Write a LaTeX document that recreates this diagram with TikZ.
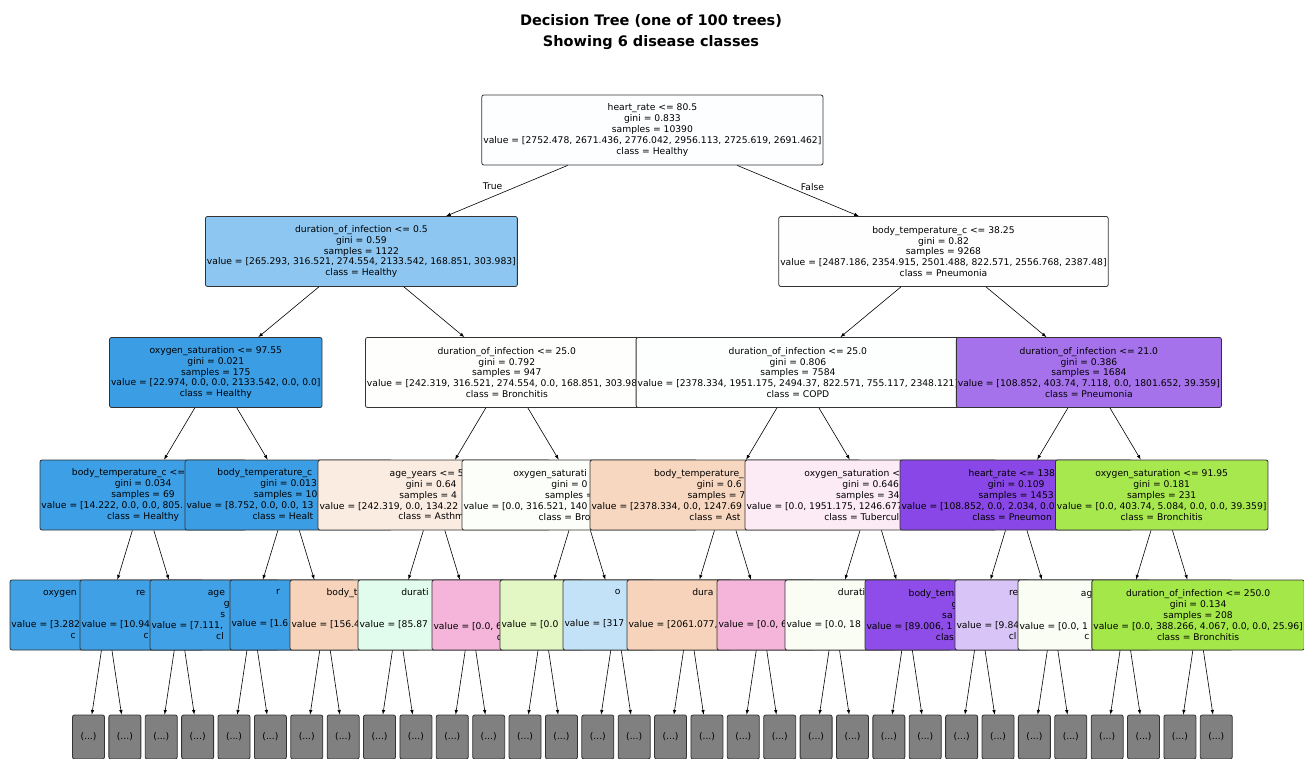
\documentclass[tikz,border=0pt]{standalone}
\usepackage{fontspec}
\setmainfont{DejaVu Sans}
\definecolor{asthma}{RGB}{229,129,57}
\definecolor{bronchitis}{RGB}{157,229,57}
\definecolor{copd}{RGB}{57,229,129}
\definecolor{healthy}{RGB}{57,157,229}
\definecolor{pneumonia}{RGB}{129,57,229}
\definecolor{tuberculosis}{RGB}{229,57,157}
\begin{document}
\begin{tikzpicture}[x=1pt,y=-1pt,
	tree/.style={draw=black!80, line width=0.8pt, rounded corners=2pt, align=center, inner xsep=1.5pt, inner ysep=2pt, minimum height=70pt, font=\fontsize{9.19}{10.8}\selectfont},
	more/.style={tree, fill=gray, minimum width=32pt, minimum height=44pt},
	lbl/.style={font=\fontsize{9.19}{10.8}\selectfont}]
				\useasboundingbox (0,0) rectangle (1304,758);
				\node[font=\bfseries\fontsize{14.5}{21}\selectfont, align=center] (title) at (651,32) {Decision Tree (one of 100 trees)\\Showing 6 disease classes};
				
				% depth 0 and 1
				\node[tree, fill=healthy!1.3!white] (root) at (652.4,130) {heart\_rate <= 80.5\\gini = 0.833\\samples = 10390\\value = [2752.478, 2671.436, 2776.042, 2956.113, 2725.619, 2691.462]\\class = Healthy};
				\node[tree, fill=healthy!57.75!white] (l) at (361.4,251.5) {duration\_of\_infection <= 0.5\\gini = 0.59\\samples = 1122\\value = [265.293, 316.521, 274.554, 2133.542, 168.851, 303.983]\\class = Healthy};
				\node[tree, fill=pneumonia!0.5!white] (r) at (943.5,251.5) {body\_temperature\_c <= 38.25\\gini = 0.82\\samples = 9268\\value = [2487.186, 2354.915, 2501.488, 822.571, 2556.768, 2387.48]\\class = Pneumonia};
				
				% depth 2
				\node[tree, fill=healthy!98.9!white] (ll) at (215.8,372.5) {oxygen\_saturation <= 97.55\\gini = 0.021\\samples = 175\\value = [22.974, 0.0, 0.0, 2133.542, 0.0, 0.0]\\class = Healthy};
				\node[tree, fill=bronchitis!1.25!white] (lr) at (506.8,372.5) {duration\_of\_infection <= 25.0\\gini = 0.792\\samples = 947\\value = [242.319, 316.521, 274.554, 0.0, 168.851, 303.98\phantom{3]}\\class = Bronchitis};
				\node[tree, fill=copd!1.4!white] (rl) at (797.9,372.5) {duration\_of\_infection <= 25.0\\gini = 0.806\\samples = 7584\\value = [2378.334, 1951.175, 2494.37, 822.571, 755.117, 2348.121]\\class = COPD};
				\node[tree, fill=pneumonia!71.4!white] (rr) at (1088.9,372.5) {duration\_of\_infection <= 21.0\\gini = 0.386\\samples = 1684\\value = [108.852, 403.74, 7.118, 0.0, 1801.652, 39.359]\\class = Pneumonia};
				
				% depth 3
				\node[tree, fill=healthy!98!white, minimum width=206.2pt] (lll) at (143.1,495) {body\_temperature\_c <=\phantom{ 37.85}\\gini = 0.034\\samples = 69\\\makebox[203.2pt][l]{value = [14.222, 0.0, 0.0, 805.}\\class = Healthy};
				\node[tree, fill=healthy!99!white, minimum width=207.2pt] (llr) at (288.6,495) {body\_temperature\_c\phantom{ <= 37.45}\\gini = 0.013\\samples = 10\phantom{6}\\\makebox[204.2pt][l]{value = [8.752, 0.0, 0.0, 13}\\class = Healt\phantom{hy}};
				\node[tree, fill=asthma!15!white, minimum width=232.2pt] (lrl) at (434.1,495) {age\_years <= 5\phantom{5.5}\\gini = 0.64\phantom{6}\\samples = 4\phantom{00}\\\makebox[229.2pt][l]{value = [242.319, 0.0, 134.22}\\class = Asthm\phantom{a}};
				\node[tree, fill=bronchitis!3!white, minimum width=235.4pt] (lrr) at (579.7,495) {oxygen\_saturati\phantom{on <= 95.45}\\gini = 0\phantom{.592}\\samples =\phantom{ 547}\\\makebox[232.4pt][l]{value = [0.0, 316.521, 140}\\class = Bro\phantom{nchitis}};
				\node[tree, fill=asthma!32!white, minimum width=270.4pt] (rll) at (725.2,495) {body\_temperature\_\phantom{c <= 38.05}\\gini = 0.6\phantom{18}\\samples = 7\phantom{242}\\\makebox[267.4pt][l]{value = [2378.334, 0.0, 1247.69}\\class = Ast\phantom{hma}};
				\node[tree, fill=tuberculosis!10!white, minimum width=251.4pt] (rlr) at (870.7,495) {oxygen\_saturation <\phantom{= 95.15}\\gini = 0.646\\samples = 342\\\makebox[248.4pt][l]{value = [0.0, 1951.175, 1246.677}\\class = Tubercul\phantom{osis}};
				\node[tree, fill=pneumonia!93!white, minimum width=232.4pt] (rrl) at (1016.2,495) {heart\_rate <= 138\phantom{.5}\\gini = 0.109\\samples = 1453\\\makebox[229.4pt][l]{value = [108.852, 0.0, 2.034, 0.0}\\class = Pneumon\phantom{ia}};
				\node[tree, fill=bronchitis!89.1!white] (rrr) at (1161.7,495) {oxygen\_saturation <= 91.95\\gini = 0.181\\samples = 231\\value = [0.0, 403.74, 5.084, 0.0, 0.0, 39.359]\\class = Bronchitis};
				
				% depth 4
				\node[tree, fill=healthy!96!white, minimum width=193.4pt] (llll) at (106.7,615) {\makebox[127pt][l]{oxygen}\\\strut\\\strut\\\makebox[190.4pt][l]{value = [3.282}\\c\phantom{lass = Healthy}};
				\node[tree, fill=healthy!97!white, minimum width=199pt] (lllr) at (179.5,615) {\makebox[87pt][l]{re}\\\strut\\\strut\\\makebox[196pt][l]{value = [10.94}\\c\phantom{lass = Healthy}};
				\node[tree, fill=healthy!96!white, minimum width=204.4pt] (llrl) at (252.2,615) {age\phantom{\_years <= 45.5}\\g\phantom{ini = 0.013}\\s\phantom{amples = 46}\\\makebox[201.4pt][l]{value = [7.111,}\\cl\phantom{ass = Healthy}};
				\node[tree, fill=healthy!98!white, minimum width=190pt] (llrr) at (325,615) {\makebox[98pt][l]{r}\\\strut\\\strut\\\makebox[187pt][l]{value = [1.6}\\\strut};
				\node[tree, fill=asthma!35!white, minimum width=215.4pt] (lrll) at (397.7,615) {body\_t\phantom{emperature\_c <= 37.45}\\\strut\\\strut\\\makebox[212.4pt][l]{value = [156.4}\\\strut};
				\node[tree, fill=copd!15!white, minimum width=225pt] (lrlr) at (470.5,615) {durati\phantom{on\_of\_infection <= 15.5}\\\strut\\\strut\\\makebox[222pt][l]{value = [85.87}\\\strut};
				\node[tree, fill=tuberculosis!38!white, minimum width=222.6pt] (lrrl) at (543.3,615) {\strut\\\strut\\\strut\\\makebox[219.6pt][l]{value = [0.0, 6}\\c\phantom{lass = Tuberculosis}};
				\node[tree, fill=bronchitis!30!white, minimum width=232pt] (lrrr) at (616,615) {\strut\\\strut\\\strut\\\makebox[229pt][l]{value = [0.0}\\\strut};
				\node[tree, fill=healthy!30!white, minimum width=251.6pt] (rlll) at (688.8,615) {\makebox[148pt][l]{o}\\\strut\\\strut\\\makebox[248.6pt][l]{value = [317}\\\strut};
				\node[tree, fill=asthma!35!white, minimum width=269pt] (rllr) at (761.5,615) {dura\phantom{tion\_of\_infection <= 15.5}\\\strut\\\strut\\\makebox[266pt][l]{value = [2061.077,}\\\strut};
				\node[tree, fill=tuberculosis!38!white, minimum width=234.6pt] (rlrl) at (834.3,615) {\strut\\\strut\\\strut\\\makebox[231.6pt][l]{value = [0.0, 6}\\\strut};
				\node[tree, fill=bronchitis!6!white, minimum width=244.2pt] (rlrr) at (907.1,615) {durati\phantom{on\_of\_infection <= 21.5}\\\strut\\\strut\\\makebox[241.2pt][l]{value = [0.0, 18}\\\strut};
				\node[tree, fill=pneumonia!90!white, minimum width=229.6pt] (rrll) at (979.8,615) {body\_tem\phantom{perature\_c <= 38.55}\\g\phantom{ini = 0.071}\\sa\phantom{mples = 1398}\\\makebox[226.6pt][l]{value = [89.006, 1}\\clas\phantom{s = Pneumonia}};
				\node[tree, fill=pneumonia!30!white, minimum width=195.2pt] (rrlr) at (1052.6,615) {\makebox[87pt][l]{re}\\\strut\\\strut\\\makebox[192.2pt][l]{value = [9.84}\\cl\phantom{ass = Pneumonia}};
				\node[tree, fill=bronchitis!6!white, minimum width=214.6pt] (rrrl) at (1125.3,615) {ag\phantom{e\_years <= 62.5}\\\strut\\\strut\\\makebox[211.6pt][l]{value = [0.0, 1}\\c\phantom{lass = Bronchitis}};
				\node[tree, fill=bronchitis!92.35!white] (rrrr) at (1198.1,615) {duration\_of\_infection <= 250.0\\gini = 0.134\\samples = 208\\value = [0.0, 388.266, 4.067, 0.0, 0.0, 25.96]\\class = Bronchitis};
				
				% cut off subtrees
				\foreach \i in {0,...,31}
					\node[more] (x\i) at ({88.5+36.38*\i},737) {(...)};
				
				\draw[->,>=latex,semithick] (root) edge node[lbl, pos=0.42, xshift=-24pt, name=t] {True} (l)
					edge node[lbl, pos=0.43, xshift=23pt, name=f] {False} (r);
				\draw[->,>=latex,semithick] (l) edge (ll) edge (lr);
				\draw[->,>=latex,semithick] (r) edge (rl) edge (rr);
				\draw[->,>=latex,semithick] (ll) edge (lll) edge (llr);
				\draw[->,>=latex,semithick] (lr) edge (lrl) edge (lrr);
				\draw[->,>=latex,semithick] (rl) edge (rll) edge (rlr);
				\draw[->,>=latex,semithick] (rr) edge (rrl) edge (rrr);
				\draw[->,>=latex,semithick] (lll) edge (llll) edge (lllr);
				\draw[->,>=latex,semithick] (llr) edge (llrl) edge (llrr);
				\draw[->,>=latex,semithick] (lrl) edge (lrll) edge (lrlr);
				\draw[->,>=latex,semithick] (lrr) edge (lrrl) edge (lrrr);
				\draw[->,>=latex,semithick] (rll) edge (rlll) edge (rllr);
				\draw[->,>=latex,semithick] (rlr) edge (rlrl) edge (rlrr);
				\draw[->,>=latex,semithick] (rrl) edge (rrll) edge (rrlr);
				\draw[->,>=latex,semithick] (rrr) edge (rrrl) edge (rrrr);
				\foreach \p [count=\k from 0] in {llll,lllr,llrl,llrr,lrll,lrlr,lrrl,lrrr,rlll,rllr,rlrl,rlrr,rrll,rrlr,rrrl,rrrr} {
					\pgfmathtruncatemacro\a{2*\k}
					\pgfmathtruncatemacro\b{2*\k+1}
					\draw[->,>=latex,semithick] (\p) edge (x\a) edge (x\b);
				}
			\end{tikzpicture}
\end{document}
